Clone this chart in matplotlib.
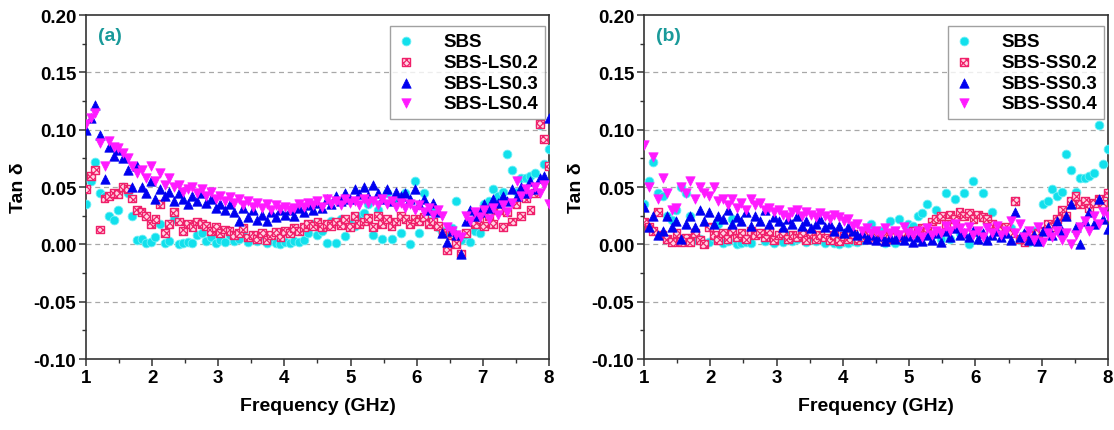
import numpy as np
import matplotlib
matplotlib.use("Agg")
import matplotlib.pyplot as plt
from matplotlib.ticker import MultipleLocator, FormatStrFormatter

plt.rcParams['font.family'] = ['Liberation Sans', 'DejaVu Sans']
plt.rcParams['font.weight'] = 'bold'
plt.rcParams['hatch.linewidth'] = 0.9
plt.rcParams['hatch.color'] = '#f0206a'

# frequency grid (GHz), 101 points from 1 to 8
freq = np.round(np.linspace(1.0, 8.0, 101), 2)

sbs = [0.035, 0.055, 0.072, 0.045, 0.042, 0.025, 0.021, 0.030, 0.050, 0.045,
       0.025, 0.004, 0.005, 0.001, 0.002, 0.006, 0.018, 0.001, 0.003, 0.022,
       0.000, 0.001, 0.002, 0.001, 0.008, 0.010, 0.003, 0.006, 0.001, 0.004,
       0.002, 0.008, 0.003, 0.005, 0.012, 0.002, 0.006, 0.003, 0.008, 0.001,
       0.004, 0.001, 0.000, 0.002, 0.001, 0.003, 0.002, 0.004, 0.010, 0.018,
       0.008, 0.012, 0.001, 0.020, 0.001, 0.022, 0.007, 0.018, 0.016, 0.025,
       0.027, 0.035, 0.008, 0.030, 0.005, 0.045, 0.005, 0.040, 0.010, 0.045,
       0.000, 0.055, 0.010, 0.045, 0.020, 0.028, 0.015, 0.012, 0.010, 0.014,
       0.038, 0.004, 0.008, 0.002, 0.012, 0.010, 0.035, 0.038, 0.048, 0.042,
       0.046, 0.079, 0.065, 0.046, 0.058, 0.058, 0.060, 0.062, 0.104, 0.070,
       0.083]

ls02 = [0.048, 0.060, 0.065, 0.013, 0.040, 0.042, 0.045, 0.044, 0.050, 0.048,
        0.040, 0.030, 0.028, 0.025, 0.018, 0.022, 0.035, 0.010, 0.018, 0.028,
        0.020, 0.012, 0.018, 0.015, 0.020, 0.018, 0.016, 0.012, 0.015, 0.010,
        0.013, 0.012, 0.008, 0.010, 0.014, 0.006, 0.008, 0.005, 0.010, 0.004,
        0.008, 0.011, 0.006, 0.012, 0.010, 0.014, 0.012, 0.015, 0.018, 0.016,
        0.020, 0.015, 0.018, 0.016, 0.020, 0.017, 0.022, 0.015, 0.025, 0.018,
        0.020, 0.023, 0.015, 0.025, 0.018, 0.022, 0.016, 0.020, 0.025, 0.022,
        0.018, 0.022, 0.020, 0.024, 0.018, 0.020, 0.016, 0.010, -0.005, 0.008,
        0.000, -0.008, 0.010, 0.020, 0.018, 0.022, 0.016, 0.025, 0.018, 0.030,
        0.015, 0.028, 0.020, 0.035, 0.025, 0.040, 0.030, 0.045, 0.105, 0.092,
        0.068]

ls03 = [0.100, 0.110, 0.122, 0.095, 0.057, 0.085, 0.077, 0.082, 0.075, 0.065,
        0.050, 0.068, 0.050, 0.045, 0.055, 0.040, 0.048, 0.042, 0.046, 0.038,
        0.045, 0.040, 0.035, 0.042, 0.038, 0.045, 0.036, 0.040, 0.032, 0.035,
        0.030, 0.035, 0.028, 0.020, 0.032, 0.024, 0.030, 0.021, 0.026, 0.020,
        0.028, 0.024, 0.030, 0.026, 0.030, 0.025, 0.032, 0.028, 0.034, 0.030,
        0.036, 0.032, 0.040, 0.035, 0.042, 0.038, 0.045, 0.040, 0.048, 0.044,
        0.050, 0.042, 0.052, 0.045, 0.040, 0.048, 0.038, 0.046, 0.042, 0.045,
        0.040, 0.048, 0.035, 0.040, 0.030, 0.036, 0.028, 0.010, 0.002, 0.012,
        0.008, -0.008, 0.020, 0.030, 0.025, 0.028, 0.035, 0.032, 0.040, 0.036,
        0.042, 0.038, 0.048, 0.042, 0.050, 0.045, 0.055, 0.048, 0.058, 0.060,
        0.110]

ls04 = [0.105, 0.110, 0.115, 0.088, 0.068, 0.090, 0.085, 0.084, 0.080, 0.075,
        0.068, 0.062, 0.065, 0.058, 0.068, 0.055, 0.062, 0.052, 0.058, 0.050,
        0.052, 0.046, 0.048, 0.050, 0.045, 0.048, 0.042, 0.046, 0.040, 0.042,
        0.038, 0.041, 0.036, 0.040, 0.034, 0.038, 0.033, 0.036, 0.032, 0.035,
        0.030, 0.034, 0.031, 0.033, 0.030, 0.032, 0.035, 0.033, 0.036, 0.034,
        0.038, 0.033, 0.040, 0.035, 0.038, 0.034, 0.040, 0.036, 0.038, 0.034,
        0.040, 0.036, 0.038, 0.034, 0.040, 0.035, 0.038, 0.033, 0.036, 0.032,
        0.035, 0.030, 0.034, 0.028, 0.032, 0.026, 0.030, 0.025, 0.015, 0.012,
        0.008, 0.006, 0.025, 0.020, 0.028, 0.024, 0.030, 0.022, 0.032, 0.026,
        0.034, 0.028, 0.036, 0.055, 0.042, 0.048, 0.044, 0.050, 0.045, 0.052,
        0.035]

ss02 = [0.020, 0.015, 0.012, 0.028, 0.008, 0.005, 0.002, 0.010, 0.002, 0.006,
        0.002, 0.010, 0.004, 0.000, 0.015, 0.008, 0.004, 0.010, 0.005, 0.012,
        0.006, 0.010, 0.005, 0.012, 0.008, 0.010, 0.006, 0.012, 0.004, 0.008,
        0.010, 0.005, 0.008, 0.006, 0.010, 0.004, 0.009, 0.005, 0.008, 0.006,
        0.004, 0.008, 0.003, 0.007, 0.005, 0.009, 0.004, 0.006, 0.008, 0.005,
        0.007, 0.004, 0.008, 0.005, 0.009, 0.006, 0.008, 0.010, 0.012, 0.010,
        0.014, 0.012, 0.020, 0.022, 0.025, 0.018, 0.026, 0.022, 0.028, 0.025,
        0.027, 0.022, 0.026, 0.024, 0.022, 0.018, 0.015, 0.012, 0.015, 0.010,
        0.038, 0.005, 0.002, 0.008, 0.004, 0.010, 0.012, 0.018, 0.015, 0.022,
        0.030, 0.025, 0.038, 0.042, 0.035, 0.038, 0.032, 0.036, 0.040, 0.035,
        0.045]

ss03 = [0.033, 0.015, 0.025, 0.008, 0.012, 0.025, 0.015, 0.020, 0.005, 0.018,
        0.025, 0.015, 0.030, 0.020, 0.028, 0.018, 0.025, 0.022, 0.030, 0.018,
        0.024, 0.020, 0.028, 0.016, 0.025, 0.020, 0.030, 0.018, 0.024, 0.020,
        0.015, 0.022, 0.018, 0.025, 0.016, 0.020, 0.014, 0.018, 0.022, 0.015,
        0.018, 0.012, 0.016, 0.010, 0.015, 0.012, 0.008, 0.010, 0.005, 0.008,
        0.004, 0.007, 0.003, 0.006, 0.005, 0.008, 0.004, 0.007, 0.002, 0.006,
        0.003, 0.008, 0.004, 0.010, 0.002, 0.012, 0.006, 0.014, 0.008, 0.010,
        0.006, 0.012, 0.005, 0.010, 0.004, 0.008, 0.012, 0.006, 0.010, 0.004,
        0.028, 0.006, 0.010, 0.004, 0.008, 0.003, 0.012, 0.015, 0.008, 0.020,
        0.012, 0.025, 0.035, 0.015, 0.000, 0.020, 0.028, 0.018, 0.040, 0.022,
        0.013]

ss04 = [0.087, 0.050, 0.076, 0.040, 0.058, 0.045, 0.030, 0.032, 0.050, 0.045,
        0.055, 0.040, 0.050, 0.045, 0.042, 0.050, 0.038, 0.040, 0.034, 0.040,
        0.032, 0.036, 0.030, 0.040, 0.034, 0.036, 0.030, 0.032, 0.028, 0.030,
        0.026, 0.024, 0.028, 0.030, 0.025, 0.028, 0.026, 0.024, 0.027, 0.025,
        0.022, 0.026, 0.024, 0.020, 0.022, 0.016, 0.018, 0.012, 0.014, 0.010,
        0.012, 0.008, 0.014, 0.010, 0.012, 0.008, 0.015, 0.010, 0.008, 0.012,
        0.006, 0.014, 0.008, 0.012, 0.010, 0.016, 0.012, 0.018, 0.014, 0.010,
        0.015, 0.008, 0.012, 0.006, 0.014, 0.010, 0.016, 0.008, 0.012, 0.020,
        0.010, 0.018, 0.006, 0.012, 0.004, 0.015, 0.002, 0.010, 0.006, 0.012,
        0.004, 0.010, 0.000, 0.008, 0.015, 0.020, 0.012, 0.025, 0.018, 0.028,
        0.025]

panels = [
    ("(a)", [("SBS", sbs), ("SBS-LS0.2", ls02), ("SBS-LS0.3", ls03), ("SBS-LS0.4", ls04)]),
    ("(b)", [("SBS", sbs), ("SBS-SS0.2", ss02), ("SBS-SS0.3", ss03), ("SBS-SS0.4", ss04)]),
]

styles = [
    dict(marker='o', s=40, facecolors='#12e0ec', edgecolors='#6ff0f6', linewidths=0.6),
    dict(marker='s', s=32, facecolors='#ffd6e4', edgecolors='#f0206a', linewidths=1.0, hatch='xxxxx'),
    dict(marker='^', s=46, facecolors='#0000f0', edgecolors='#0000f0', linewidths=0.5),
    dict(marker='v', s=46, facecolors='#ff1aff', edgecolors='#ff1aff', linewidths=0.5),
]

fig = plt.figure(figsize=(11.14, 4.31), dpi=100)
axes_pos = [[0.0772, 0.1647, 0.4156, 0.798], [0.5781, 0.1647, 0.4165, 0.798]]

for pos, (tag, series) in zip(axes_pos, panels):
    ax = fig.add_axes(pos)
    for (name, vals), st in zip(series, styles):
        ax.scatter(freq, vals, label=name, zorder=3, **st)

    ax.set_xlim(1, 8)
    ax.set_ylim(-0.10, 0.20)
    ax.xaxis.set_major_locator(MultipleLocator(1))
    ax.xaxis.set_minor_locator(MultipleLocator(0.5))
    ax.yaxis.set_major_locator(MultipleLocator(0.05))
    ax.yaxis.set_minor_locator(MultipleLocator(0.025))
    ax.yaxis.set_major_formatter(FormatStrFormatter('%.2f'))
    ax.tick_params(which='major', direction='out', length=5, width=1.1,
                   labelsize=13.5, color='#333333', pad=2)
    ax.tick_params(which='minor', direction='out', length=3, width=1.0, color='#333333')
    ax.tick_params(top=False, right=False, which='both')
    for sp in ax.spines.values():
        sp.set_linewidth(1.2)
        sp.set_color('#333333')

    for yv in [-0.05, 0.0, 0.05, 0.10, 0.15]:
        ax.axhline(yv, color='#a8a8a8', lw=0.9, ls=(0, (4, 3)), zorder=1)

    ax.set_xlabel('Frequency (GHz)', fontsize=14, fontweight='bold', labelpad=8)
    ax.set_ylabel('Tan δ', fontsize=14, fontweight='bold', labelpad=5)
    ax.text(0.025, 0.94, tag, transform=ax.transAxes, color='#1a9a9a',
            fontsize=14, fontweight='bold', va='center', ha='left')

    leg = ax.legend(loc='upper right', bbox_to_anchor=(0.991, 0.968), fontsize=13.5,
                    frameon=True, fancybox=False, borderpad=0.35, labelspacing=0.2,
                    handletextpad=1.5, handlelength=1.0, borderaxespad=0,
                    scatterpoints=1, edgecolor='#8a8a8a')
    leg.get_frame().set_linewidth(1.0)

fig.savefig('out.png', dpi=100)
